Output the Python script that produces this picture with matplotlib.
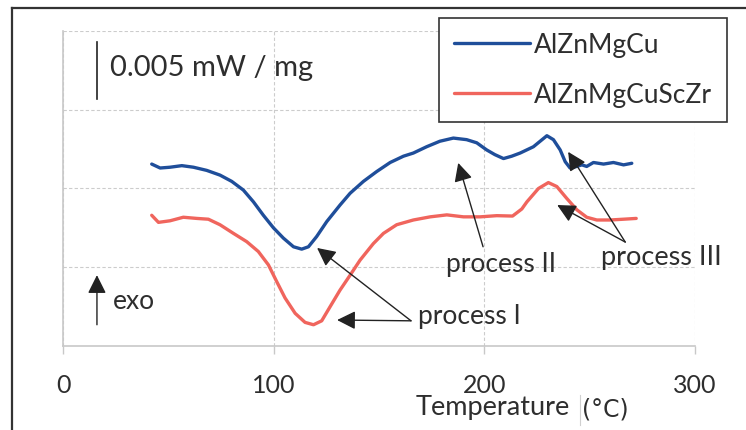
import matplotlib.pyplot as plt

plt.rcParams['font.family'] = ['Lato', 'DejaVu Sans']

# DSC curves (temperature in C, signal in grid units)
t_base = [42.1, 46.1, 50.8, 56.4, 61.9, 68.2, 74.5, 80.1, 85.6, 90.4, 95.1, 99.9,
          104.6, 109.4, 113.3, 116.5, 120.4, 125.2, 131.5, 136.3, 142.6, 148.9,
          155.3, 161.6, 166.3, 172.6, 178.9, 185.3, 191.6, 196.4, 201.1, 205.0,
          209.1, 213.0, 217.0, 223.3, 229.7, 232.8, 236.0, 238.4, 240.7, 243.9,
          246.3, 248.6, 251.8, 256.6, 261.3, 266.1, 270.0]
y_base = [2.31, 2.26, 2.27, 2.29, 2.27, 2.23, 2.17, 2.09, 1.98, 1.83, 1.66, 1.50,
          1.37, 1.26, 1.23, 1.26, 1.39, 1.58, 1.79, 1.94, 2.09, 2.215,
          2.33, 2.41, 2.45, 2.53, 2.60, 2.64, 2.62, 2.58, 2.49, 2.43,
          2.38, 2.41, 2.45, 2.53, 2.67, 2.62, 2.49, 2.34, 2.26, 2.28,
          2.30, 2.28, 2.33, 2.31, 2.33, 2.30, 2.32]

t_sczr = [42.1, 45.3, 50.8, 57.1, 63.5, 69.0, 74.5, 80.9, 87.2, 92.7, 97.5, 101.4,
          105.4, 110.2, 114.9, 118.9, 122.8, 126.8, 131.5, 136.3, 141.0, 147.3,
          152.1, 158.4, 166.3, 174.3, 182.2, 190.1, 198.0, 205.9, 213.4, 217.8,
          220.2, 225.7, 230.4, 234.4, 239.1, 243.9, 248.6, 253.4, 259.7, 266.1, 272.1]
y_sczr = [1.66, 1.57, 1.59, 1.635, 1.62, 1.61, 1.54, 1.43, 1.325, 1.20, 1.03, 0.82,
          0.61, 0.415, 0.30, 0.27, 0.32, 0.50, 0.71, 0.90, 1.09, 1.30,
          1.43, 1.54, 1.60, 1.64, 1.665, 1.64, 1.64, 1.655, 1.65, 1.74,
          1.83, 2.00, 2.075, 2.025, 1.875, 1.73, 1.635, 1.60, 1.60, 1.61, 1.62]

x_ticks = [0, 100, 200, 300]
labels = ["AlZnMgCu", "AlZnMgCuScZr"]

fig = plt.figure(figsize=(7.46, 4.30), dpi=100)
ax = fig.add_axes([0.0845, 0.1953, 0.8471, 0.7327])

txt = '#2e2e2e'
ax.plot(t_base, y_base, color='#1f4e9a', lw=2.4, label=labels[0],
        solid_joinstyle='round', solid_capstyle='round')
ax.plot(t_sczr, y_sczr, color='#f0655d', lw=2.4, label=labels[1],
        solid_joinstyle='round', solid_capstyle='round')

ax.set_xlim(0, 300)
ax.set_ylim(0, 4)
ax.set_xticks(x_ticks)
ax.set_yticks([1, 2, 3, 4])
ax.tick_params(axis='y', length=0, labelleft=False)
ax.tick_params(axis='x', length=6, width=1, color='#c8c8c8', pad=14,
               labelsize=18, labelcolor=txt)
ax.grid(True, color='#cccccc', ls=(0, (3, 2)), lw=0.8)
for s in ['top', 'right']:
    ax.spines[s].set_visible(False)
for s in ['left', 'bottom']:
    ax.spines[s].set_color('#c8c8c8')
    ax.spines[s].set_linewidth(1.2)

# annotations
arr = dict(arrowstyle='-|>', color='#222222', lw=1, mutation_scale=28,
           shrinkA=0, shrinkB=0)
ax.annotate('', xy=(120.6, 1.245), xytext=(165.2, 0.32), arrowprops=arr)
ax.annotate('', xy=(130.1, 0.33), xytext=(165.2, 0.32), arrowprops=arr)
ax.text(168.6, 0.37, 'process I', fontsize=19, color=txt, va='center', ha='left')

ax.annotate('', xy=(187.6, 2.325), xytext=(199.4, 1.26), arrowprops=arr)
ax.text(208, 1.03, 'process II', fontsize=19, color=txt, va='center', ha='center')

ax.annotate('', xy=(239.8, 2.465), xytext=(266.9, 1.32), arrowprops=arr)
ax.annotate('', xy=(234.6, 1.79), xytext=(266.9, 1.32), arrowprops=arr)
ax.text(255.5, 1.13, 'process III', fontsize=19.5, color=txt, va='center', ha='left')

# scale bar and exo arrow
ax.plot([16.1, 16.1], [3.13, 3.86], color='#222222', lw=1.2)
ax.text(22.3, 3.53, '0.005 mW / mg', fontsize=21, color=txt, va='center', ha='left')
ax.annotate('', xy=(16.1, 0.90), xytext=(16.1, 0.27), arrowprops=arr)
ax.text(23.7, 0.56, 'exo', fontsize=19, color=txt, va='center', ha='left')

# x label
fig.text(416 / 746, 1 - 408 / 430, 'Temperature', fontsize=19.5, color=txt,
         va='center', ha='left')
fig.text(582 / 746, 1 - 410 / 430, '(°C)', fontsize=17, color=txt,
         va='center', ha='left', family='DejaVu Sans')
fig.add_artist(plt.Line2D([580 / 746, 580 / 746], [1 - 395 / 430, 1 - 425 / 430],
                          transform=fig.transFigure, color='#d0d0d0', lw=0.8))

leg = fig.legend(loc='upper left', bbox_to_anchor=(439 / 746, 1 - 18 / 430),
                 borderaxespad=0, fontsize=19, frameon=True, fancybox=False,
                 handlelength=2.9, labelspacing=0.95, borderpad=0.55,
                 handletextpad=0.15)
leg.get_frame().set_edgecolor('#333333')
leg.get_frame().set_linewidth(1.2)
leg.get_frame().set_alpha(1)
for t in leg.get_texts():
    t.set_color(txt)

# outer frame (left and top edges only)
fig.add_artist(plt.Line2D([12 / 746, 12 / 746], [0, 1 - 8 / 430],
                          transform=fig.transFigure, color='#333333', lw=1.6))
fig.add_artist(plt.Line2D([12 / 746, 1], [1 - 8 / 430, 1 - 8 / 430],
                          transform=fig.transFigure, color='#333333', lw=1.6))

plt.savefig('out.png', dpi=100)
